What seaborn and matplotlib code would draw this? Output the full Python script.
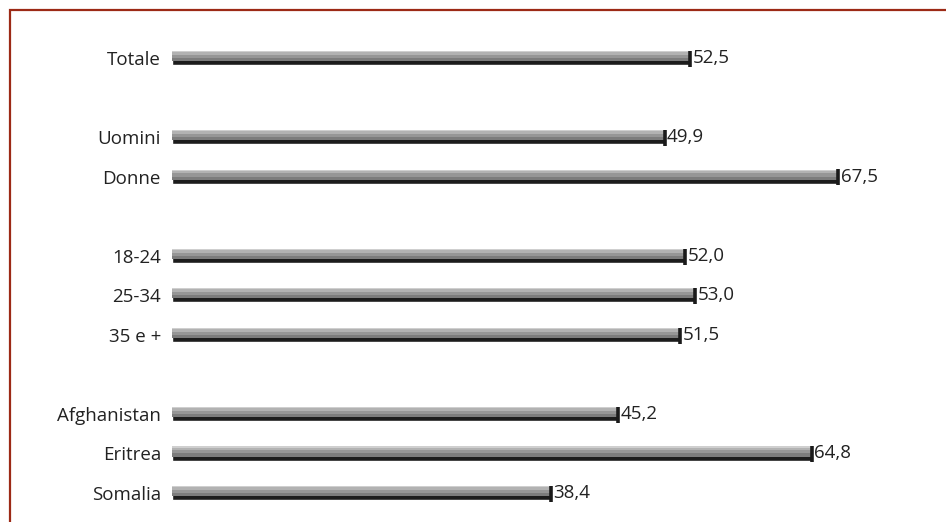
import matplotlib
matplotlib.use("Agg")
import matplotlib.pyplot as plt
import seaborn as sns
import pandas as pd
from matplotlib.patches import Rectangle

# dati (percentuali)
labels = ['Totale', 'Uomini', 'Donne', '18-24', '25-34', '35 e +',
          'Afghanistan', 'Eritrea', 'Somalia']
values = [52.5, 49.9, 67.5, 52.0, 53.0, 51.5, 45.2, 64.8, 38.4]
positions = [0, 2, 3, 5, 6, 7, 9, 10, 11]   # righe vuote tra i gruppi
value_text = ['52,5', '49,9', '67,5', '52,0', '53,0', '51,5', '45,2', '64,8', '38,4']

df = pd.DataFrame({'label': labels, 'value': values, 'pos': positions})

sns.set_style('white')
plt.rcParams['font.family'] = ['Open Sans', 'DejaVu Sans']

fig = plt.figure(figsize=(9.46, 5.22), dpi=100)
ax = fig.add_axes([172 / 946, 0.0177, 770 / 946, 0.909])

# barra di base (parte scura)
sns.barplot(data=df, x='value', y='pos', orient='h', native_scale=True,
            width=0.36, color='#1c1c1c', saturation=1, ax=ax)
# sfumatura: strati piu chiari nella parte alta
ax.barh(df['pos'] - 0.05, df['value'], height=0.26, color='#7c7c7c', linewidth=0)
ax.barh(df['pos'] - 0.09, df['value'], height=0.18, color='#969696', linewidth=0)
ax.barh(df['pos'] - 0.13, df['value'], height=0.10, color='#b2b2b2', linewidth=0)
ax.barh(df['pos'] - 0.165, df['value'], height=0.03, color='#cfcfcf', linewidth=0)
# tappo scuro alla fine della barra
ax.plot(df['value'], df['pos'] + 0.02, linestyle='none', marker='|', markersize=11,
        markeredgewidth=2.6, color='#1a1a1a')

for v, p, t in zip(values, positions, value_text):
    ax.text(v + 0.25, p, t, va='center', ha='left', fontsize=13.5, color='#222222')

ax.set_xlim(0, 78)
ax.set_ylim(11.5, -0.5)
ax.set_yticks(positions)
ax.set_yticklabels(labels, fontsize=13.5, color='#222222')
ax.tick_params(axis='y', length=0, pad=8)
ax.set_xticks([])
ax.set_xlabel('')
ax.set_ylabel('')
sns.despine(ax=ax, left=True, bottom=True)

# cornice rossa scura
fig.patches.append(Rectangle((10 / 946, -0.1), 1.2, 1.1 - 10 / 522,
                             transform=fig.transFigure, fill=False,
                             edgecolor='#9c2a16', linewidth=1.6))

fig.savefig('out.png', dpi=100, facecolor='white')
